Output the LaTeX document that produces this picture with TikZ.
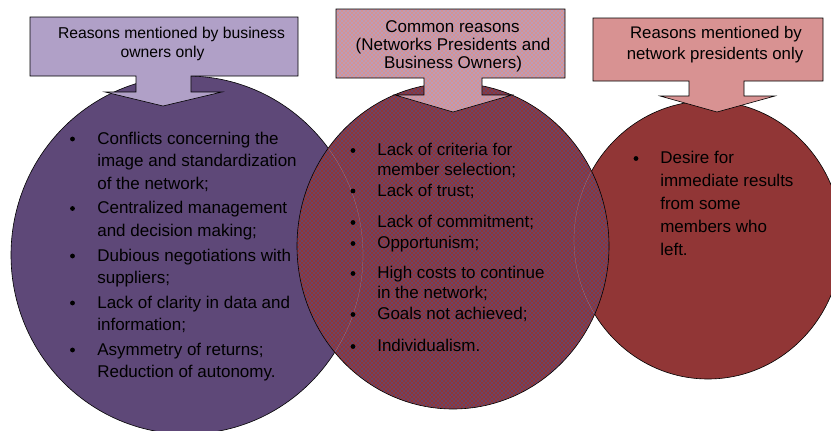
\documentclass[tikz,border=0pt]{standalone}
\usepackage{fontspec}
\setmainfont{Liberation Sans}
\usetikzlibrary{patterns}
\definecolor{ownersfill}{RGB}{94,72,120}
\definecolor{ownersbox}{RGB}{176,160,199}
\definecolor{presfill}{RGB}{145,54,54}
\definecolor{presbox}{RGB}{216,146,146}
\pgfdeclarepatternformonly{venndots}{\pgfqpoint{-1.2pt}{-1.2pt}}{\pgfqpoint{3.2pt}{3.2pt}}{\pgfqpoint{4pt}{4pt}}{
  \pgfpathcircle{\pgfqpoint{0pt}{0pt}}{1.1pt}
  \pgfpathcircle{\pgfqpoint{2pt}{2pt}}{1.1pt}
  \pgfusepath{fill}
}
\begin{document}
\begin{tikzpicture}[x=1pt,y=-1pt,line width=0.6pt,
  item/.style={anchor=base west,font=\fontsize{17}{20}\selectfont},
  bullet/.style={circle,fill=black,minimum size=4.8pt},
  ownerstitle/.style={anchor=base,font=\fontsize{15.7}{19}\selectfont},
  commontitle/.style={anchor=base,font=\fontsize{17}{20}\selectfont},
  prestitle/.style={anchor=base,font=\fontsize{16.8}{20}\selectfont}]
\tikzstyle{every node}+=[inner sep=0pt]
\clip (0,0) rectangle (831,431);
% the three circles
\draw [black,fill=ownersfill] (187,255) ellipse (176 and 179);
\draw [black,fill=presfill] (708,240) ellipse (134 and 139);
\fill [presfill] (453,246) ellipse (156 and 163);
\fill [pattern=venndots,pattern color=ownersfill] (453,246) ellipse (156 and 163);
\begin{scope}
\clip (453,246) ellipse (156 and 163);
\draw [white,opacity=0.35,very thin] (187,255) ellipse (176 and 179);
\draw [white,opacity=0.35,very thin] (708,240) ellipse (134 and 139);
\end{scope}
\draw [black] (453,246) ellipse (156 and 163);
% callouts
\draw [black,fill=ownersbox] (30,17) -- (298,17) -- (298,76) -- (191,76) -- (191,92) -- (222,92) -- (163,106) -- (105,92) -- (136,92) -- (136,76) -- (30,76) -- cycle;
\fill [presbox] (336,9) -- (565,9) -- (565,78) -- (482,78) -- (482,95) -- (512,95) -- (453,112) -- (395,95) -- (424,95) -- (424,78) -- (336,78) -- cycle;
\fill [pattern=venndots,pattern color=ownersbox] (336,9) -- (565,9) -- (565,78) -- (482,78) -- (482,95) -- (512,95) -- (453,112) -- (395,95) -- (424,95) -- (424,78) -- (336,78) -- cycle;
\draw [black] (336,9) -- (565,9) -- (565,78) -- (482,78) -- (482,95) -- (512,95) -- (453,112) -- (395,95) -- (424,95) -- (424,78) -- (336,78) -- cycle;
\draw [black,fill=presbox] (593,18) -- (823,18) -- (823,81) -- (744,81) -- (744,96) -- (775,96) -- (717,112) -- (660,96) -- (689,96) -- (689,81) -- (593,81) -- cycle;
% titles
\node [ownerstitle] (own1) at (171.5,38) {Reasons mentioned by business};
\node [ownerstitle] (own2) at (162.5,57) {owners only};
\node [commontitle] (com1) at (452.5,32) {Common reasons};
\node [commontitle] (com2) at (453,50) {(Networks Presidents and};
\node [commontitle] (com3) at (453,68) {Business Owners)};
\node [prestitle] (pre1) at (716,38.5) {Reasons mentioned by};
\node [prestitle] (pre2) at (715,59) {network presidents only};
% business owners only
\node [bullet] (ob1) at (72.5,139) {};
\node [item] (o1) at (97,144) {Conflicts concerning the};
\node [item] (o2) at (97,166.5) {image and standardization};
\node [item] (o3) at (97,189) {of the network;};
\node [bullet] (ob2) at (72.5,208.5) {};
\node [item] (o4) at (97,213.5) {Centralized management};
\node [item] (o5) at (97,236) {and decision making;};
\node [bullet] (ob3) at (72.5,256) {};
\node [item] (o6) at (97,261) {Dubious negotiations with};
\node [item] (o7) at (97,283.5) {suppliers;};
\node [bullet] (ob4) at (72.5,303) {};
\node [item] (o8) at (97,308) {Lack of clarity in data and};
\node [item] (o9) at (97,330.5) {information;};
\node [bullet] (ob5) at (72.5,350) {};
\node [item] (o10) at (97,355) {Asymmetry of returns;};
\node [item] (o11) at (97,377.5) {Reduction of autonomy.};
% common reasons
\node [bullet] (cb1) at (353,150.5) {};
\node [item] (c1) at (377,155.5) {Lack of criteria for};
\node [item] (c2) at (377,175.5) {member selection;};
\node [bullet] (cb2) at (353,191) {};
\node [item] (c3) at (377,196) {Lack of trust;};
\node [bullet] (cb3) at (353,222.5) {};
\node [item] (c4) at (377,227.5) {Lack of commitment;};
\node [bullet] (cb4) at (353,243.5) {};
\node [item] (c5) at (377,248.5) {Opportunism;};
\node [bullet] (cb5) at (353,273.5) {};
\node [item] (c6) at (377,278.5) {High costs to continue};
\node [item] (c7) at (377,298.5) {in the network;};
\node [bullet] (cb6) at (353,314.5) {};
\node [item] (c8) at (377,319.5) {Goals not achieved;};
\node [bullet] (cb7) at (353,346.5) {};
\node [item] (c9) at (377,351.5) {Individualism.};
% network presidents only
\node [bullet] (pb1) at (636,158.5) {};
\node [item] (p1) at (660,163.5) {Desire for};
\node [item] (p2) at (660,186.5) {immediate results};
\node [item] (p3) at (660,209.5) {from some};
\node [item] (p4) at (660,232.5) {members who};
\node [item] (p5) at (660,255.5) {left.};
\end{tikzpicture}
\end{document}
